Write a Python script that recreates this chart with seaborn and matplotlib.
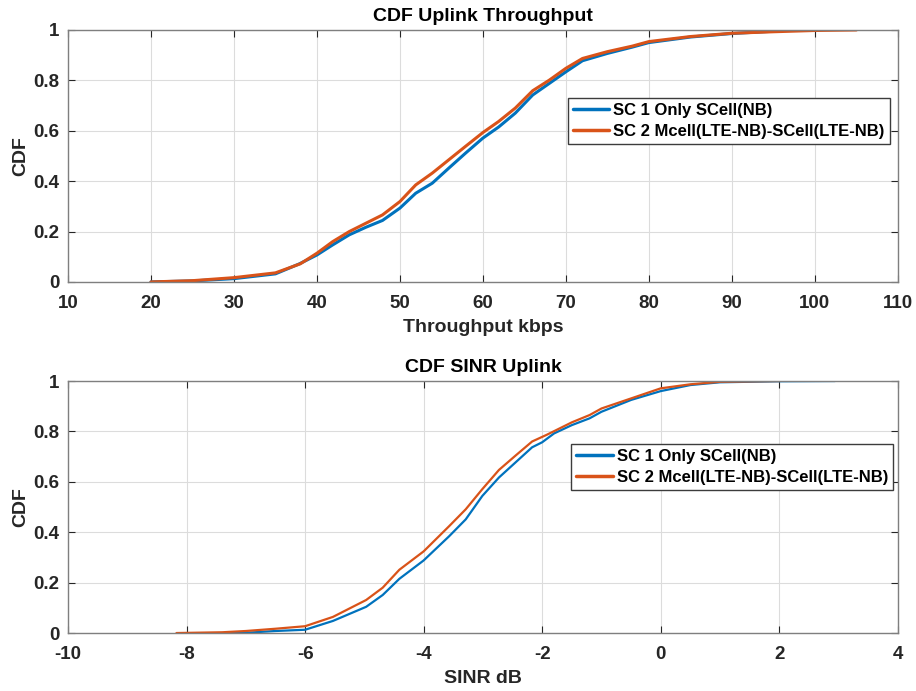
import matplotlib
matplotlib.use("Agg")
import matplotlib.pyplot as plt
import seaborn as sns
import pandas as pd

sns.set_theme(style="white")
plt.rcParams["font.family"] = ["Liberation Sans", "DejaVu Sans"]
plt.rcParams["font.weight"] = "bold"
plt.rcParams["axes.unicode_minus"] = False

SC1 = "SC 1 Only SCell(NB)"
SC2 = "SC 2 Mcell(LTE-NB)-SCell(LTE-NB)"
COLORS = {SC1: "#0072BD", SC2: "#D95319"}

# Uplink throughput (kbps) vs empirical CDF
thr_sc1_x = [20, 25, 30, 35, 37.9, 40, 41.9, 43.9, 45.9, 47.9, 50, 51.9, 53.9, 55.9, 57.9,
             60, 61.9, 63.9, 66, 68, 70, 72, 75, 78, 80, 85, 90, 95.5]
thr_sc1_y = [0.0, 0.004, 0.013, 0.032, 0.072, 0.107, 0.147, 0.187, 0.217, 0.244, 0.293, 0.352, 0.392, 0.452, 0.511,
             0.571, 0.615, 0.67, 0.742, 0.788, 0.834, 0.878, 0.907, 0.932, 0.95, 0.972, 0.986, 0.996]
thr_sc2_x = [20, 25, 30, 35, 38, 40, 41.9, 43.9, 45.9, 47.9, 50, 51.9, 53.9, 55.9, 57.9,
             60, 61.9, 63.9, 66, 68, 70, 72, 75, 78, 80, 85, 90, 95, 100, 105]
thr_sc2_y = [0.0, 0.005, 0.017, 0.036, 0.072, 0.114, 0.16, 0.2, 0.233, 0.266, 0.319, 0.385, 0.432, 0.485, 0.538,
             0.593, 0.637, 0.69, 0.759, 0.801, 0.848, 0.887, 0.914, 0.936, 0.954, 0.974, 0.987, 0.993, 0.998, 1.0]

# Uplink SINR (dB) vs empirical CDF
sinr_sc1_x = [-7.36, -7.0, -6.5, -6.0, -5.53, -4.97, -4.69, -4.41, -4.0, -3.57, -3.29, -3.01,
              -2.73, -2.45, -2.17, -2.0, -1.8, -1.5, -1.2, -1.0, -0.5, 0.0, 0.5, 1.0, 2.0, 2.94]
sinr_sc1_y = [0.0, 0.001, 0.008, 0.013, 0.048, 0.104, 0.151, 0.215, 0.288, 0.384, 0.451, 0.544,
              0.617, 0.677, 0.737, 0.757, 0.792, 0.825, 0.852, 0.878, 0.925, 0.96, 0.984, 0.995, 0.999, 1.0]
sinr_sc2_x = [-8.17, -7.4, -7.0, -6.5, -6.0, -5.53, -4.97, -4.69, -4.41, -4.0, -3.57, -3.29, -3.01,
              -2.73, -2.45, -2.17, -1.92, -1.5, -1.2, -1.0, -0.5, 0.0, 0.5, 1.0, 2.0]
sinr_sc2_y = [0.0, 0.003, 0.008, 0.017, 0.027, 0.064, 0.131, 0.18, 0.251, 0.324, 0.424, 0.491, 0.571,
              0.647, 0.704, 0.76, 0.787, 0.836, 0.865, 0.891, 0.931, 0.971, 0.987, 0.997, 1.0]


def frame(xs1, ys1, xs2, ys2):
    a = pd.DataFrame({"x": xs1, "cdf": ys1, "scenario": SC1})
    b = pd.DataFrame({"x": xs2, "cdf": ys2, "scenario": SC2})
    return pd.concat([a, b], ignore_index=True)


fig = plt.figure(figsize=(9.16, 6.91), dpi=100)
ax1 = fig.add_axes([0.0742, 0.592, 0.906, 0.3646])
ax2 = fig.add_axes([0.0742, 0.0839, 0.906, 0.3647])

panels = [
    (ax1, frame(thr_sc1_x, thr_sc1_y, thr_sc2_x, thr_sc2_y), "CDF Uplink Throughput",
     "Throughput kbps", (10, 110), list(range(10, 111, 10)), (0.602, 0.730), 2.2),
    (ax2, frame(sinr_sc1_x, sinr_sc1_y, sinr_sc2_x, sinr_sc2_y), "CDF SINR Uplink",
     "SINR dB", (-10, 4), list(range(-10, 5, 2)), (0.606, 0.75), 1.6),
]

tick_color = "#262626"
for ax, df, title, xlabel, xlim, xticks, anchor, lw in panels:
    sns.lineplot(data=df, x="x", y="cdf", hue="scenario", palette=COLORS,
                 estimator=None, sort=False, linewidth=lw, ax=ax)
    ax.set_xlim(*xlim)
    ax.set_ylim(0, 1)
    ax.set_xticks(xticks)
    ax.set_xticklabels([str(t) for t in xticks])
    ax.set_yticks([0, 0.2, 0.4, 0.6, 0.8, 1.0])
    ax.set_yticklabels(["0", "0.2", "0.4", "0.6", "0.8", "1"])
    ax.grid(True, color="#dcdcdc", linewidth=0.8)
    ax.tick_params(axis="x", pad=9.5)
    ax.tick_params(axis="y", pad=6)
    ax.tick_params(direction="in", length=5, width=0.8, colors=tick_color,
                   labelsize=13.5, top=True, right=True, bottom=True, left=True)
    for lab in ax.get_xticklabels() + ax.get_yticklabels():
        lab.set_fontweight("bold")
    for sp in ax.spines.values():
        sp.set_color("#7f7f7f")
        sp.set_linewidth(1.0)
    ax.set_title(title, fontsize=14, fontweight="bold", color="black", pad=6.5)
    ax.set_xlabel(xlabel, fontsize=14, fontweight="bold", color=tick_color, labelpad=5)
    ax.set_ylabel("CDF", fontsize=14, fontweight="bold", color=tick_color, labelpad=3)
    leg = ax.legend(loc="upper left", bbox_to_anchor=anchor, borderaxespad=0,
                    fontsize=12, frameon=True, fancybox=False, framealpha=1,
                    edgecolor="#3c3c3c", handlelength=2.2, handletextpad=0.25,
                    borderpad=0.3, labelspacing=0.35)
    leg.get_frame().set_linewidth(1.0)
    for t in leg.get_texts():
        t.set_fontweight("bold")
        t.set_color("black")
    for h in leg.get_lines():
        h.set_linewidth(2.5)

fig.savefig("out.png", dpi=100)
